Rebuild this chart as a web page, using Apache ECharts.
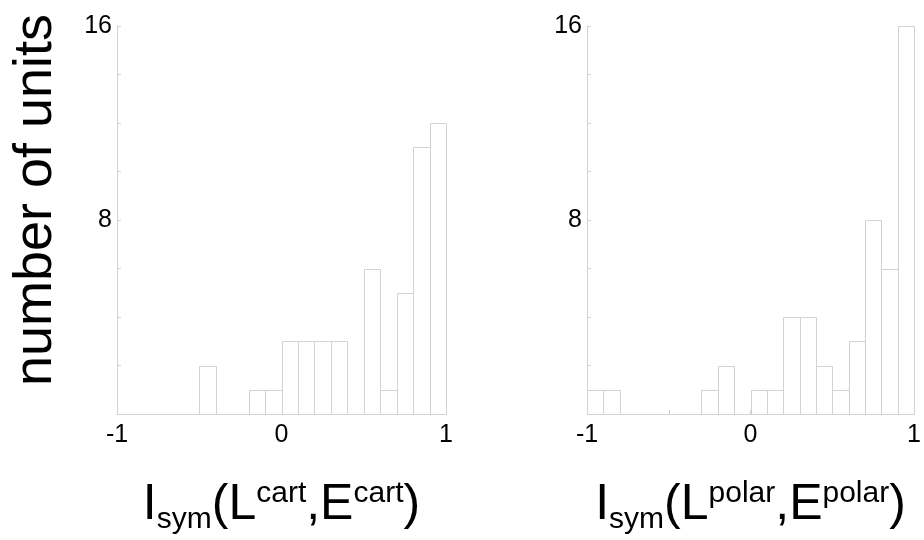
<!DOCTYPE html>
<html>
<head>
<meta charset="utf-8">
<script src="https://cdn.jsdelivr.net/npm/echarts@6/dist/echarts.min.js"></script>
<style>html,body{margin:0;padding:0;background:#fff;}#c{width:924px;height:540px;}</style>
</head>
<body>
<div id="c"></div>
<script>
// bin edges for the histograms (value of I_sym)
var binEdges = [-1, -0.9, -0.8, -0.7, -0.6, -0.5, -0.4, -0.3, -0.2, -0.1, 0, 0.1, 0.2, 0.3, 0.4, 0.5, 0.6, 0.7, 0.8, 0.9, 1];
// number of units per bin
var cartCounts  = [0, 0, 0, 0, 0, 2, 0, 0, 1, 1, 3, 3, 3, 3, 0, 6, 1, 5, 11, 12];
var polarCounts = [1, 1, 0, 0, 0, 0, 0, 1, 2, 0, 1, 1, 4, 4, 2, 1, 3, 8, 6, 16];
// tick labels shown
var xTickLabels = ['-1', '0', '1'];
var yTickLabels = ['8', '16'];
var yAxisTitle = 'number of units';

function toData(counts) {
  var out = [];
  for (var i = 0; i < counts.length; i++) out.push([binEdges[i], binEdges[i + 1], counts[i]]);
  return out;
}

var FONT = '"Liberation Sans", Arial, Helvetica, sans-serif';
var LINE = '#d2d2d2';

function renderItem(params, api) {
  var c = api.value(2);
  if (!c) return null;
  var p0 = api.coord([api.value(0), 0]);
  var p1 = api.coord([api.value(1), c]);
  var x0 = Math.round(p0[0]) + 0.5, x1 = Math.round(p1[0]) + 0.5;
  var yb = Math.round(p0[1]) + 0.5, yt = Math.round(p1[1]) + 0.5;
  return {
    type: 'rect',
    shape: { x: x0, y: yt, width: x1 - x0, height: yb - yt },
    style: { fill: '#ffffff', stroke: LINE, lineWidth: 1 }
  };
}

var richName = {
  a: { fontSize: 50, fontFamily: FONT, color: '#000', lineHeight: 60 },
  sup: { fontSize: 30, fontFamily: FONT, color: '#000', lineHeight: 34, verticalAlign: 'top', padding: [4, 0, 0, 0] },
  sub: { fontSize: 30, fontFamily: FONT, color: '#000', lineHeight: 30, verticalAlign: 'bottom' }
};

function xAxisCfg(idx, name) {
  return {
    gridIndex: idx, type: 'value', min: -1, max: 1, interval: 0.5,
    splitLine: { show: false },
    axisLine: { onZero: false, lineStyle: { color: LINE, width: 1 } },
    axisTick: { inside: true, length: 4, lineStyle: { color: LINE } },
    axisLabel: {
      margin: 9, fontSize: 25, fontFamily: FONT, color: '#000',
      formatter: function (v) { var s = String(v); return xTickLabels.indexOf(s) >= 0 ? s : ''; }
    },
    name: name, nameLocation: 'middle', nameGap: 61,
    nameTextStyle: { rich: richName }
  };
}

function yAxisCfg(idx, withName) {
  var cfg = {
    gridIndex: idx, type: 'value', min: 0, max: 16, interval: 2,
    splitLine: { show: false },
    axisLine: { show: true, onZero: false, lineStyle: { color: LINE, width: 1 } },
    axisTick: { show: true, inside: true, length: 4, lineStyle: { color: LINE } },
    axisLabel: {
      margin: 5, fontSize: 25, fontFamily: FONT, color: '#000',
      formatter: function (v) { var s = String(v); return yTickLabels.indexOf(s) >= 0 ? s : ''; }
    }
  };
  if (withName) {
    cfg.name = yAxisTitle;
    cfg.nameLocation = 'middle';
    cfg.nameGap = 54;
    cfg.nameTextStyle = { fontSize: 54, fontFamily: FONT, color: '#000', padding: [0, 0, 0, 40] };
  }
  return cfg;
}

var chart = echarts.init(document.getElementById('c'), null, { renderer: 'canvas' });
chart.setOption({
  animation: false,
  backgroundColor: '#ffffff',
  grid: [
    { left: 117, top: 26, width: 329, height: 393 },
    { left: 587, top: 26, width: 330, height: 393 }
  ],
  xAxis: [
    xAxisCfg(0, '{a|I}{sub|sym}{a|(L}{sup|cart}{a|,E}{sup|cart}{a|)}'),
    xAxisCfg(1, '{a|I}{sub|sym}{a|(L}{sup|polar}{a|,E}{sup|polar}{a|)}')
  ],
  yAxis: [yAxisCfg(0, true), yAxisCfg(1, false)],
  series: [
    { type: 'custom', xAxisIndex: 0, yAxisIndex: 0, renderItem: renderItem,
      encode: { x: [0, 1], y: 2 }, data: toData(cartCounts) },
    { type: 'custom', xAxisIndex: 1, yAxisIndex: 1, renderItem: renderItem,
      encode: { x: [0, 1], y: 2 }, data: toData(polarCounts) }
  ]
});
</script>
</body>
</html>
